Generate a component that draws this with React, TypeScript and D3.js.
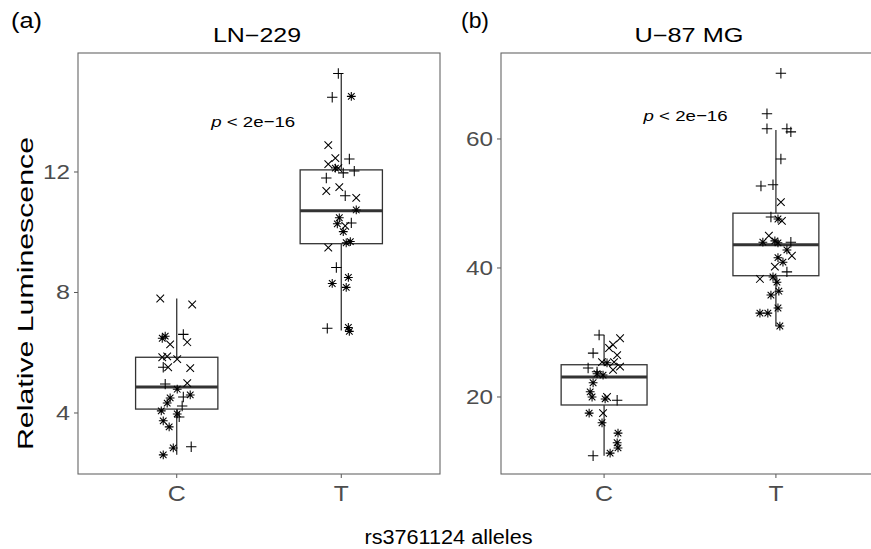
import React from "react";
import * as d3 from "d3";

// ---------- data ----------
const categories = ["C", "T"];
const lnTicks = [4, 8, 12];
const uTicks = [20, 40, 60];

// LN-229, allele C
const lnC_values = [7.8, 7.6, 6.61, 6.48, 6.55, 6.28, 6.35, 5.85, 5.88, 5.79, 5.52, 5.52, 5.49, 4.96, 4.99, 4.79, 4.6, 4.53, 4.5, 4.33, 4.23, 4.07, 3.97, 3.87, 3.74, 3.54, 2.84, 2.88, 2.61];
const lnC_jitter = [-0.1, 0.094, 0.04, -0.088, -0.07, -0.04, 0.064, -0.088, -0.058, 0.003, -0.082, -0.052, 0.082, -0.07, 0.064, 0.003, 0.082, 0.04, -0.04, -0.058, 0.033, -0.094, 0.003, 0.015, -0.082, -0.046, -0.021, 0.088, -0.082];
const lnC_shapes = ["x", "x", "+", "*", "*", "x", "x", "x", "x", "x", "+", "x", "x", "+", "x", "*", "*", "+", "*", "*", "+", "*", "*", "+", "*", "*", "*", "+", "*"];

// LN-229, allele T
const lnT_values = [15.27, 14.48, 14.51, 12.89, 12.46, 12.43, 12.26, 12.13, 12.13, 11.97, 12.03, 11.8, 11.37, 11.5, 11.21, 11.14, 10.74, 10.48, 10.28, 10.31, 10.21, 10.02, 9.69, 9.65, 9.49, 8.83, 8.5, 8.3, 8.17, 6.81, 6.84, 6.71];
const lnT_jitter = [-0.018, -0.055, 0.061, -0.079, -0.036, 0.049, -0.079, -0.036, -0.018, 0.012, 0.079, -0.091, -0.091, -0.012, 0.024, 0.091, 0.091, -0.012, -0.024, 0.061, 0.024, 0.012, 0.055, 0.03, -0.079, -0.03, 0.043, -0.055, 0.03, -0.085, 0.043, 0.049];
const lnT_shapes = ["+", "+", "*", "x", "x", "+", "x", "*", "x", "+", "+", "+", "x", "x", "+", "x", "*", "*", "*", "+", "x", "*", "*", "*", "x", "+", "*", "*", "*", "+", "*", "*"];

// U-87 MG, allele C
const uC_values = [29.6, 29.1, 28.1, 27.6, 26.8, 26.5, 25.4, 25.3, 25.4, 24.5, 24.7, 23.9, 24.2, 23.6, 23.4, 22.2, 20.8, 20.0, 19.7, 20.0, 19.5, 17.5, 17.5, 16.0, 14.4, 12.9, 12.1, 11.3, 10.9];
const uC_jitter = [-0.029, 0.093, 0.052, 0.029, -0.064, 0.076, -0.012, 0.017, 0.058, -0.093, 0.093, -0.041, 0.052, -0.041, -0.006, -0.064, -0.081, -0.07, 0.006, 0.017, 0.076, -0.087, -0.006, -0.012, 0.081, 0.076, 0.081, 0.035, -0.064];
const uC_shapes = ["+", "x", "x", "x", "+", "x", "x", "*", "x", "+", "x", "+", "x", "*", "*", "*", "*", "*", "*", "x", "+", "*", "x", "*", "*", "*", "*", "*", "+"];

// U-87 MG, allele T
const uT_values = [70.2, 63.9, 61.6, 61.6, 61.1, 56.9, 52.7, 52.9, 50.2, 47.9, 47.6, 47.3, 44.0, 45.0, 44.2, 43.9, 44.0, 42.8, 41.9, 41.6, 40.9, 40.2, 39.4, 38.3, 38.6, 37.8, 36.4, 35.8, 33.8, 33.0, 33.0, 31.0];
const uT_jitter = [0.029, -0.052, -0.052, 0.064, 0.087, 0.029, -0.087, -0.017, 0.029, -0.029, 0.012, 0.035, -0.076, -0.041, -0.006, 0.012, 0.087, 0.064, 0.093, 0.012, 0.041, -0.006, 0.064, -0.093, -0.017, 0.006, 0.017, -0.029, 0.012, -0.093, -0.047, 0.023];
const uT_shapes = ["+", "+", "+", "+", "+", "+", "+", "+", "x", "+", "*", "x", "*", "x", "*", "*", "+", "*", "x", "*", "*", "x", "+", "x", "*", "*", "*", "*", "*", "*", "*", "*"];

// box stats: [lower whisker, Q1, median, Q3, upper whisker]
const lnC_box = [2.61, 4.13, 4.86, 5.85, 7.8];
const lnT_box = [6.74, 9.62, 10.71, 12.07, 15.27];
const uC_box = [10.9, 18.76, 23.1, 25.0, 29.6];
const uT_box = [31.0, 38.8, 43.6, 48.5, 61.4];

const lnDomain = [1.975, 15.95];
const uDomain = [8.06, 73.33];

const pText = "p < 2e\u221216";

// ---------- layout ----------
const W = 871;
const H = 549;
const FONT = "'Liberation Sans', Arial, Helvetica, sans-serif";

type Panel = {
  tag: string;
  title: string;
  x0: number;
  x1: number;
  domain: number[];
  ticks: number[];
  groups: { values: number[]; jitter: number[]; shapes: string[]; box: number[] }[];
  tagX: number;
  tagLen: number;
  titleX: number;
  titleLen: number;
  pX: number;
  pY: number;
  tickLens: number[];
};

const panels: Panel[] = [
  {
    tag: "(a)",
    title: "LN\u2212229",
    x0: 78,
    x1: 440,
    domain: lnDomain,
    ticks: lnTicks,
    groups: [
      { values: lnC_values, jitter: lnC_jitter, shapes: lnC_shapes, box: lnC_box },
      { values: lnT_values, jitter: lnT_jitter, shapes: lnT_shapes, box: lnT_box },
    ],
    tagX: 11,
    tagLen: 31,
    titleX: 257,
    titleLen: 88,
    pX: 0.465,
    pY: 13.69,
    tickLens: [14, 14, 27],
  },
  {
    tag: "(b)",
    title: "U\u221287 MG",
    x0: 501,
    x1: 879,
    domain: uDomain,
    ticks: uTicks,
    groups: [
      { values: uC_values, jitter: uC_jitter, shapes: uC_shapes, box: uC_box },
      { values: uT_values, jitter: uT_jitter, shapes: uT_shapes, box: uT_box },
    ],
    tagX: 461,
    tagLen: 28,
    titleX: 689,
    titleLen: 109,
    pX: 0.474,
    pY: 63.6,
    tickLens: [27, 27, 27],
  },
];

const TOP = 53;
const BOTTOM = 474;

function markerPath(s: string): string {
  const p = d3.path();
  const a = s === "+" ? 5.2 : 4.4;
  if (s === "+" || s === "*") {
    p.moveTo(-a, 0);
    p.lineTo(a, 0);
    p.moveTo(0, -a);
    p.lineTo(0, a);
  }
  if (s === "x" || s === "*") {
    const c = s === "x" ? 3.8 : 3.3;
    p.moveTo(-c, -c);
    p.lineTo(c, c);
    p.moveTo(-c, c);
    p.lineTo(c, -c);
  }
  return p.toString();
}

function PanelView({ pn }: { pn: Panel }) {
  const x = d3
    .scalePoint<string>()
    .domain(categories)
    .range([pn.x0, pn.x1])
    .padding(0.6);
  const step = x.step();
  const y = d3.scaleLinear().domain(pn.domain).range([BOTTOM, TOP]);
  const boxW = step * 0.5;

  return (
    <g>
      <text x={pn.tagX} y={28} fontSize={22} fontFamily={FONT} fill="#000" textLength={pn.tagLen} lengthAdjust="spacingAndGlyphs">
        {pn.tag}
      </text>
      <text
        x={pn.titleX}
        y={42}
        fontSize={19.5}
        fontFamily={FONT}
        textAnchor="middle"
        fill="#000"
        textLength={pn.titleLen}
        lengthAdjust="spacingAndGlyphs"
      >
        {pn.title}
      </text>
      <rect x={pn.x0} y={TOP} width={pn.x1 - pn.x0} height={BOTTOM - TOP} fill="#fff" stroke="none" />
      {/* y ticks */}
      {pn.ticks.map((t, i) => (
        <g key={"yt" + t}>
          <line x1={pn.x0 - 4} x2={pn.x0} y1={y(t)} y2={y(t)} stroke="#555" strokeWidth={1} />
          <text
            x={pn.x0 - 8}
            y={y(t) + 7}
            fontSize={20}
            fontFamily={FONT}
            textAnchor="end"
            fill="#4d4d4d"
            textLength={pn.tickLens[i]}
            lengthAdjust="spacingAndGlyphs"
          >
            {t}
          </text>
        </g>
      ))}
      {/* x ticks */}
      {categories.map((c) => (
        <g key={"xt" + c}>
          <line x1={x(c)!} x2={x(c)!} y1={BOTTOM} y2={BOTTOM + 4} stroke="#555" strokeWidth={1} />
          <text
            x={x(c)!}
            y={501}
            fontSize={22}
            fontFamily={FONT}
            textAnchor="middle"
            fill="#4d4d4d"
            textLength={c === "C" ? 18 : 15}
            lengthAdjust="spacingAndGlyphs"
          >
            {c}
          </text>
        </g>
      ))}
      {/* boxes */}
      {pn.groups.map((g, gi) => {
        const c = x(categories[gi])!;
        const [lo, q1, med, q3, hi] = g.box;
        return (
          <g key={"box" + gi} stroke="#333" fill="none">
            <line x1={c} x2={c} y1={y(q3)} y2={y(hi)} strokeWidth={1.3} />
            <line x1={c} x2={c} y1={y(q1)} y2={y(lo)} strokeWidth={1.3} />
            <rect x={c - boxW / 2} y={y(q3)} width={boxW} height={y(q1) - y(q3)} fill="#fff" strokeWidth={1.3} />
            <line x1={c - boxW / 2} x2={c + boxW / 2} y1={y(med)} y2={y(med)} strokeWidth={3} />
          </g>
        );
      })}
      {/* points */}
      {pn.groups.map((g, gi) => {
        const c = x(categories[gi])!;
        return (
          <g key={"pts" + gi} stroke="#000" fill="none" strokeWidth={1.05}>
            {g.values.map((v, i) => (
              <path key={i} d={markerPath(g.shapes[i])} transform={`translate(${c + g.jitter[i] * step},${y(v)})`} />
            ))}
          </g>
        );
      })}
      {/* p label */}
      <text
        x={x(categories[0])! + pn.pX * step}
        y={y(pn.pY) + 5.5}
        fontSize={15.5}
        fontFamily={FONT}
        textAnchor="middle"
        fill="#000"
        textLength={84}
        lengthAdjust="spacingAndGlyphs"
      >
        <tspan fontStyle="italic">p</tspan>
        {pText.slice(1)}
      </text>
      {/* panel border */}
      <rect x={pn.x0} y={TOP} width={pn.x1 - pn.x0} height={BOTTOM - TOP} fill="none" stroke="#666" strokeWidth={1.1} />
    </g>
  );
}

export default function App() {
  return (
    <svg
      width={W}
      height={H}
      viewBox={`0 0 ${W} ${H}`}
      style={{ position: "absolute", left: 0, top: 0, background: "#fff" }}
    >
      <rect x={0} y={0} width={W} height={H} fill="#fff" />
      {panels.map((pn) => (
        <PanelView key={pn.tag} pn={pn} />
      ))}
      <text
        transform="translate(33,293.5) rotate(-90)"
        fontSize={22}
        fontFamily={FONT}
        textAnchor="middle"
        fill="#000"
        textLength={313}
        lengthAdjust="spacingAndGlyphs"
      >
        Relative Luminescence
      </text>
      <text
        x={448.5}
        y={544}
        fontSize={20}
        fontFamily={FONT}
        textAnchor="middle"
        fill="#000"
        textLength={168}
        lengthAdjust="spacingAndGlyphs"
      >
        rs3761124 alleles
      </text>
    </svg>
  );
}
